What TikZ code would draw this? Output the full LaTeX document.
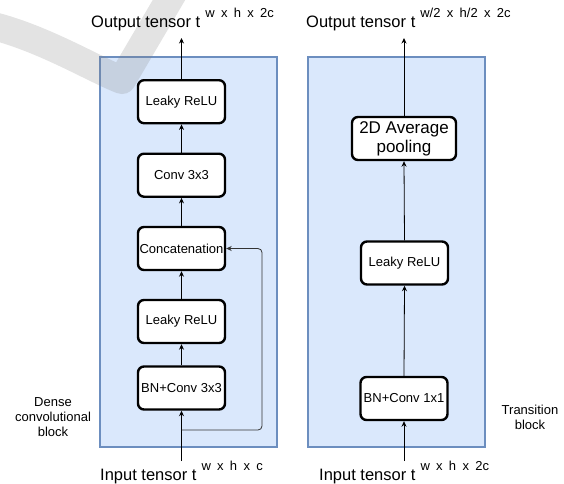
\documentclass[tikz,border=0pt]{standalone}
\usepackage{fontspec}
\setmainfont{Liberation Sans}
\usetikzlibrary{arrows.meta}
\definecolor{contfill}{HTML}{DAE8FC}
\definecolor{contline}{HTML}{6C8EBF}
\newcommand{\spc}{\hspace{6.3pt}}
\newcommand{\supx}[1]{\raisebox{9.5pt}{\fontsize{13}{15}\selectfont #1}}
\tikzset{
  container/.style={draw=contline, fill=contfill, line width=2pt, inner sep=0pt, minimum width=177pt, minimum height=390pt},
  blk/.style={draw, line width=2.4pt, rounded corners=6pt, fill=white, minimum width=87pt, minimum height=43pt, inner sep=0pt, font=\fontsize{13}{15}\selectfont, align=center},
  bigblk/.style={blk, minimum width=104pt, font=\fontsize{17}{19}\selectfont},
  arr/.style={-{Stealth[length=5.5pt,width=5pt]}, line width=0.8pt},
  lbl/.style={align=center, inner sep=0pt, font=\fontsize{13}{15}\selectfont},
  io/.style={anchor=base west, inner sep=0pt, font=\fontsize{16.5}{20}\selectfont}
}
\begin{document}
\begin{tikzpicture}[x=1pt,y=-1pt]
\useasboundingbox (0,0) rectangle (564,483);
% containers
\node[container] (lc) at (188.5,252) {};
\node[container] (rc) at (396.5,252) {};
% faint watermark stroke
\draw[line width=28pt, gray, opacity=0.22, line join=round] (-15,24) .. controls (40,36) and (95,70) .. (122,80) -- (176,-12);
% left column
\node[blk] (l1) at (181.5,101.7) {Leaky ReLU};
\node[blk] (l2) at (181.5,175.2) {Conv 3x3};
\node[blk] (l3) at (181.5,248.5) {Concatenation};
\node[blk] (l4) at (181.5,321.5) {Leaky ReLU};
\node[blk] (l5) at (181.5,388) {BN+Conv 3x3};
% right column
\node[bigblk] (r1) at (404,138.5) {2D Average\\pooling};
\node[blk] (r2) at (404.5,263) {Leaky ReLU};
\node[blk] (r3) at (404,398.5) {BN+Conv 1x1};
% texts
\node[io] (lout) at (91,27) {Output tensor t\hspace{5pt}\supx{w\spc x\spc h\spc x\spc 2c}};
\node[io] (rout) at (306,27) {Output tensor t\hspace{5pt}\supx{w/2\spc x\spc h/2\spc x\spc 2c}};
\node[io] (lin) at (100,480) {Input tensor t\hspace{5pt}\supx{w\spc x\spc h\spc x\spc c}};
\node[io] (rin) at (319,480) {Input tensor t\hspace{5pt}\supx{w\spc x\spc h\spc x\spc 2c}};
\node[lbl] (dense) at (53,417) {Dense\\convolutional\\block};
\node[lbl] (trans) at (530,417.5) {Transition\\block};
% coordinates
\coordinate (lo) at (181.5,38);
\coordinate (li) at (181.5,461);
\coordinate (fb) at (181.5,430);
\coordinate (fb1) at (262,430);
\coordinate (fb2) at (262,248.5);
\coordinate (ro) at (404,38);
\coordinate (ri) at (404,461);
% left arrows
\draw[arr] (li) -- (l5.south);
\draw[arr] (l5.north) -- (l4.south);
\draw[arr] (l4.north) -- (l3.south);
\draw[arr] (l3.north) -- (l2.south);
\draw[arr] (l2.north) -- (l1.south);
\draw[arr] (l1.north) -- (lo);
\draw[arr, draw=black!80, rounded corners=4pt] (fb) -- (fb1) -- (fb2) -- (l3.east);
% right arrows
\draw[arr] (ri) -- (r3.south);
\draw[arr] (r3.north) -- (r2.south);
\draw[arr] (r2.north) -- (r1.south);
\draw[arr] (r1.north) -- (ro);
\end{tikzpicture}
\end{document}
